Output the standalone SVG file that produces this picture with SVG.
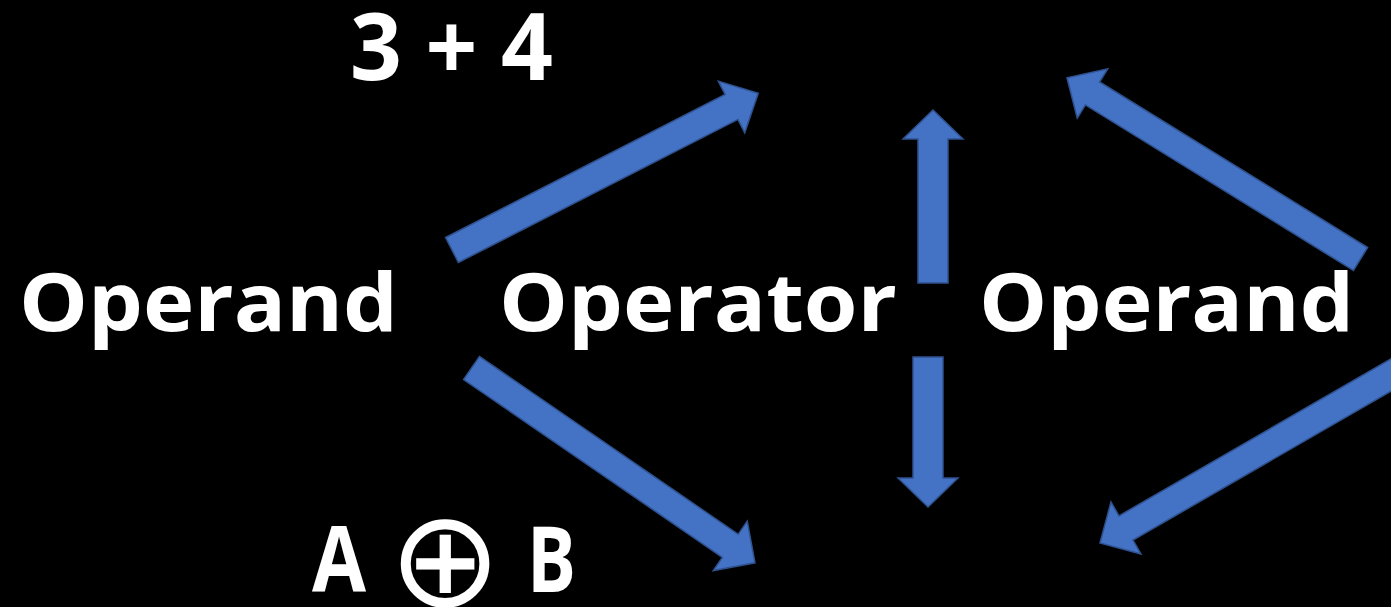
<svg xmlns="http://www.w3.org/2000/svg" width="1391" height="607" viewBox="0 0 1391 607">
<style>
.arrow{fill:#4472C4;stroke:#2F528F;stroke-width:1.5;stroke-linejoin:miter}
.lbl{font-family:"Open Sans","Liberation Sans",sans-serif;font-weight:bold;fill:#FFFFFF}
.sym{font-family:"DejaVu Sans",sans-serif;font-weight:normal;fill:#FFFFFF}
</style>
<rect x="0" y="0" width="1391" height="607" fill="#000000"/>
<g id="connectors">
<path class="arrow" transform="translate(452,250) rotate(-27.1)" d="M0,-14 H314 V-29 L344,0 L314,29 V14 H0 Z"/>
<path class="arrow" transform="translate(933,283) rotate(-90)" d="M0,-15 H144 V-30 L173,0 L144,30 V15 H0 Z"/>
<path class="arrow" transform="translate(928,357) rotate(90)" d="M0,-15 H121 V-30 L150,0 L121,30 V15 H0 Z"/>
<path class="arrow" transform="translate(1360.5,259) rotate(-148.3)" d="M0,-13.5 H315 V-29 L345,0 L315,29 V13.5 H0 Z"/>
<path class="arrow" transform="translate(471.5,368) rotate(34.5)" d="M0,-14 H314 V-30 L344,0 L314,30 V14 H0 Z"/>
<path class="arrow" transform="translate(1397.9,371) rotate(150)" d="M0,-14 H314 V-30 L344,0 L314,30 V14 H0 Z"/>
</g>
<g id="node-operand-left">
<text class="lbl" x="19" y="331" font-size="81" textLength="379" lengthAdjust="spacingAndGlyphs">Operand</text>
</g>
<g id="node-operator">
<text class="lbl" x="499" y="331" font-size="81" textLength="398" lengthAdjust="spacingAndGlyphs">Operator</text>
</g>
<g id="node-operand-right">
<text class="lbl" x="979" y="331" font-size="81" textLength="375" lengthAdjust="spacingAndGlyphs">Operand</text>
</g>
<g id="example-numeric">
<text class="lbl" x="350" y="80" font-size="93" textLength="203" lengthAdjust="spacingAndGlyphs">3 + 4</text>
</g>
<g id="example-symbolic">
<text class="lbl" x="312" y="592" font-size="91" textLength="54" lengthAdjust="spacingAndGlyphs">A</text>
<text class="sym" x="445" y="606" font-size="135" text-anchor="middle">⊕</text>
<text class="lbl" x="527" y="592" font-size="91" textLength="49" lengthAdjust="spacingAndGlyphs">B</text>
</g>
</svg>
